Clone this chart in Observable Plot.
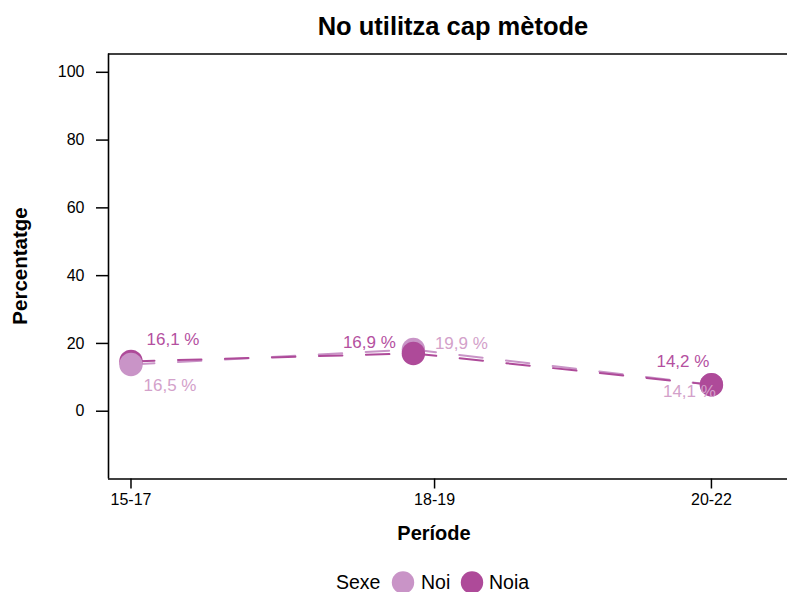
<!DOCTYPE html>
<html>
<head>
<meta charset="utf-8">
<script src="https://cdn.jsdelivr.net/npm/d3@7"></script>
<script src="https://cdn.jsdelivr.net/npm/@observablehq/plot@0.6"></script>
<style>
  html, body { margin: 0; padding: 0; background: #fff; }
  svg { display: block; }
</style>
</head>
<body>
<div id="chart"></div>
<script>
// ---- data ----
const periods = ["15-17", "18-19", "20-22"];
const sexes = ["Noi", "Noia"];
const noi = [13.8, 18.2, 7.8];
const noia = [14.7, 17.05, 7.8];
const noiLabels = ["16,5 %", "19,9 %", "14,1 %"];
const noiaLabels = ["16,1 %", "16,9 %", "14,2 %"];
const yTicks = [0, 20, 40, 60, 80, 100];
const colors = ["#c994c7", "#ae4a99"];
const labelColors = ["#d3a1ca", "#b4509f"];

// ---- layout (not data) ----
const tickPos = [0, 1.046, 2];
const dotPos = [0, 0.973, 2];
const xDomain = [-0.0775, 2.3];
const yDomain = [-20, 105.4];

const rows = [];
periods.forEach((p, i) => {
  rows.push({period: p, sex: "Noi", x: dotPos[i], y: noi[i], label: noiLabels[i]});
  rows.push({period: p, sex: "Noia", x: dotPos[i], y: noia[i], label: noiaLabels[i]});
});
const find = (s, i) => rows.find(r => r.sex === s && r.period === periods[i]);
const dotOrder = [find("Noia",0), find("Noi",0), find("Noi",1), find("Noia",1), find("Noi",2), find("Noia",2)];

const labelOffsets = [
  {r: find("Noia",0), dx: 42, dy: -21.5},
  {r: find("Noi",0),  dx: 39, dy: 20.7},
  {r: find("Noia",1), dx: -44, dy: -10.5},
  {r: find("Noi",1),  dx: 48, dy: -6},
  {r: find("Noia",2), dx: -28.5, dy: -23.3},
  {r: find("Noi",2),  dx: -22, dy: 7.2}
];

const font = "'Liberation Sans', Arial, Helvetica, sans-serif";

const plot = Plot.plot({
  width: 787,
  height: 592,
  marginLeft: 108,
  marginRight: -11,
  marginTop: 53.5,
  marginBottom: 113.5,
  style: {fontFamily: font, fontSize: "16px", color: "#000", background: "#fff"},
  x: {type: "linear", domain: xDomain, axis: null},
  y: {type: "linear", domain: yDomain, axis: null},
  color: {domain: sexes, range: colors},
  marks: [
    Plot.axisY(yTicks, {tickSize: 12, tickPadding: 12, fontSize: 16, label: null, strokeWidth: 1.5}),
    Plot.axisX(tickPos, {tickSize: 10, tickPadding: 5, fontSize: 16, label: null, strokeWidth: 1.5,
      tickFormat: d => periods[tickPos.indexOf(d)]}),
    Plot.ruleY([yDomain[0], yDomain[1]], {stroke: "#000", strokeWidth: 1.6}),
    Plot.ruleX([xDomain[0]], {stroke: "#000", strokeWidth: 1.6}),
    Plot.line(rows, {x: "x", y: "y", z: "sex", stroke: "sex", strokeWidth: 2, strokeDasharray: "23.5,23.5", sort: {channel: "x"}}),
    Plot.dot(dotOrder, {x: "x", y: "y", fill: "sex", r: 11.7, stroke: null}),
    ...labelOffsets.map(o => Plot.text([o.r], {x: "x", y: "y", text: "label", dx: o.dx, dy: o.dy,
      fill: labelColors[sexes.indexOf(o.r.sex)], fontSize: 17, textAnchor: "middle", lineAnchor: "middle"}))
  ]
});

const svg = d3.select(plot);
svg.append("text").text("No utilitza cap mètode")
  .attr("x", 453).attr("y", 35).attr("text-anchor", "middle")
  .attr("font-family", font).attr("font-weight", "bold").attr("font-size", 25.5).attr("fill", "#000");
svg.append("text").text("Període")
  .attr("x", 434).attr("y", 540).attr("text-anchor", "middle")
  .attr("font-family", font).attr("font-weight", "bold").attr("font-size", 20).attr("fill", "#000");
svg.append("text").text("Percentatge")
  .attr("transform", "translate(27,266) rotate(-90)").attr("text-anchor", "middle")
  .attr("font-family", font).attr("font-weight", "bold").attr("font-size", 20.5).attr("fill", "#000");

// legend
const lg = svg.append("g").attr("font-family", font).attr("font-size", 19.5).attr("fill", "#000").attr("text-anchor", "start");
lg.append("text").text("Sexe").attr("x", 336).attr("y", 589).attr("text-anchor", "start");
const cs = plot.scale("color");
const legItems = [{s: "Noi", cx: 403, tx: 421}, {s: "Noia", cx: 472, tx: 489}];
legItems.forEach(it => {
  lg.append("circle").attr("cx", it.cx).attr("cy", 582.5).attr("r", 11.2).attr("fill", cs.apply(it.s));
  lg.append("text").text(it.s).attr("x", it.tx).attr("y", 589).attr("text-anchor", "start");
});

document.getElementById("chart").appendChild(plot);
</script>
</body>
</html>
